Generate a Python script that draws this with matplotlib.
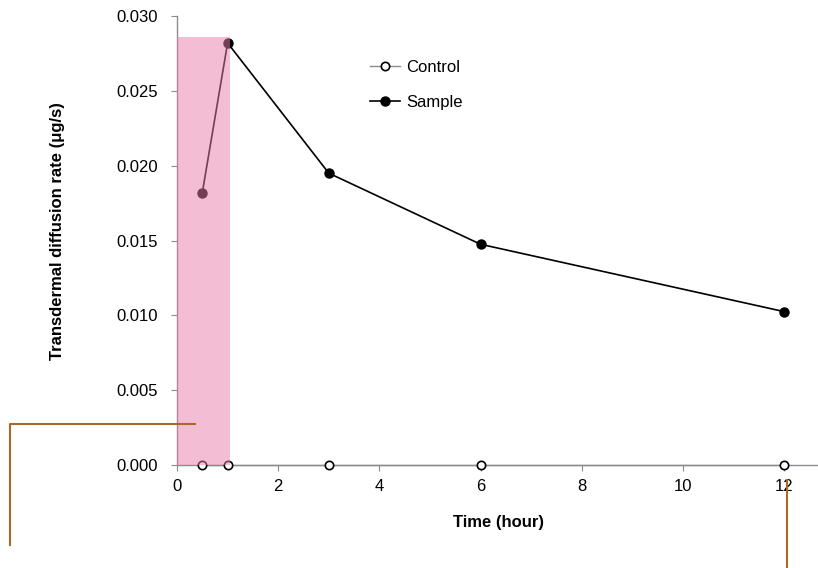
"""Taxa de difusão transdérmica ao longo do tempo: controle vs amostra."""

import matplotlib

matplotlib.use("Agg")
import matplotlib.pyplot as plt
from matplotlib.lines import Line2D
from matplotlib.patches import Rectangle

plt.rcParams["font.family"] = ["Liberation Sans", "DejaVu Sans"]
plt.rcParams["font.size"] = 12

# dados
tempo = [0.5, 1, 3, 6, 12]
controle = [0.0, 0.0, 0.0, 0.0, 0.0]
amostra = [0.0182, 0.0282, 0.0195, 0.01475, 0.01025]
ticks_x = [0, 2, 4, 6, 8, 10, 12]
ticks_y = [0.000, 0.005, 0.010, 0.015, 0.020, 0.025, 0.030]

# faixa destacada em rosa
faixa_x = (0, 1.05)
faixa_y = (0, 0.0286)

CINZA = "#8c8c8c"
MARROM = "#a8682a"
FONTE = 12

fig = plt.figure(figsize=(8.18, 5.68), dpi=100)
ax = fig.add_axes([0.2164, 0.1813, 0.7836, 0.7905])

ax.plot(tempo, controle, color=CINZA, lw=1, marker="o", ms=6,
        mfc="white", mec="black", mew=1.2, clip_on=False, zorder=3)
ax.plot(tempo, amostra, color="black", lw=1.2, marker="o", ms=6.5,
        mfc="black", mec="black", clip_on=False, zorder=3)

ax.add_patch(Rectangle((faixa_x[0], faixa_y[0]), faixa_x[1] - faixa_x[0],
                       faixa_y[1] - faixa_y[0], facecolor=(232/255, 124/255, 168/255),
                       alpha=0.5, lw=0, zorder=5, clip_on=False))

ax.set_xlim(0, 12.67)
ax.set_ylim(0, 0.030)
ax.set_xticks(ticks_x)
ax.set_yticks(ticks_y)
ax.set_yticklabels([f"{v:.3f}" for v in ticks_y])

for lado in ["top", "right"]:
    ax.spines[lado].set_visible(False)
for lado in ["left", "bottom"]:
    ax.spines[lado].set_color(CINZA)
    ax.spines[lado].set_linewidth(1)
ax.tick_params(direction="out", length=4, color=CINZA, labelsize=FONTE,
               labelcolor="black")
ax.tick_params(axis="y", pad=10)
ax.tick_params(axis="x", pad=6)

ax.set_xlabel("Time (hour)", fontweight="bold", fontsize=FONTE)
ax.set_ylabel("Transdermal diffusion rate (μg/s)", fontweight="bold",
              fontsize=FONTE)
ax.xaxis.set_label_coords(0.502, -0.111)
ax.yaxis.set_label_coords(-0.175, 0.521)

alcas = [
    Line2D([], [], color=CINZA, lw=1, marker="o", ms=6, mfc="white",
           mec="black", mew=1.2),
    Line2D([], [], color="black", lw=1.2, marker="o", ms=6.5, mfc="black"),
]
ax.legend(alcas, ["Control", "Sample"], loc="upper left",
          bbox_to_anchor=(0.301, 0.902), frameon=False, handlelength=1.8,
          handletextpad=0.4, labelspacing=1.2, fontsize=FONTE,
          borderpad=0, borderaxespad=0)

# traços marrons soltos na figura
fig.add_artist(Line2D([10 / 818, 10 / 818, 195 / 818],
                      [1 - 545 / 568, 1 - 424 / 568, 1 - 424 / 568],
                      color=MARROM, lw=1.5))
fig.add_artist(Line2D([787 / 818, 787 / 818], [1 - 480 / 568, 0],
                      color=MARROM, lw=1.5))

fig.savefig("out.png", dpi=100)
